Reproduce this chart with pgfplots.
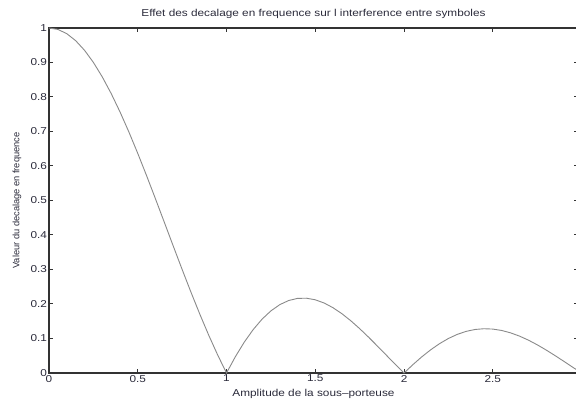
\documentclass[border=0pt]{standalone}
\usepackage{fontspec}
\setmainfont{Liberation Sans}[FakeStretch=1.18]
\newfontfamily\ylfont{Liberation Sans}
\usepackage{pgfplots}
\pgfplotsset{compat=1.18}
\definecolor{axgray}{HTML}{333333}
\definecolor{curvegray}{HTML}{8A8A8A}
\definecolor{txt}{HTML}{2A2A3A}
\begin{document}
\begin{tikzpicture}
\begin{axis}[
  scale only axis,
  width=529pt, height=345pt,
  xmin=0, xmax=2.98, ymin=0, ymax=1,
  xtick={0,0.5,1,1.5,2,2.5},
  xticklabels={0,0.5,1,1.5,2,2.5},
  ytick={0,0.1,0.2,0.3,0.4,0.5,0.6,0.7,0.8,0.9,1},
  yticklabels={0,0.1,0.2,0.3,0.4,0.5,0.6,0.7,0.8,0.9,1},
  tick align=inside,
  major tick length=4pt,
  tick style={axgray, line width=1pt},
  axis line style={axgray, line width=1.4pt},
  ticklabel style={font=\fontsize{10}{11}\selectfont, text=txt},
  xticklabel style={yshift=1.5pt},
  yticklabel style={xshift=1.5pt},
  /pgf/number format/assume math mode=true,
  title={Effet des decalage en frequence sur l interference entre symboles},
  title style={font=\fontsize{10}{11}\selectfont, text=txt, at={(axis description cs:0.5,1)}, anchor=center, yshift=8.5pt},
  xlabel={Amplitude de la sous--porteuse},
  xlabel style={font=\fontsize{10}{11}\selectfont, text=txt, at={(axis description cs:0.5,0)}, anchor=center, yshift=-21pt},
  ylabel={Valeur du decalage en frequence},
  ylabel style={font=\ylfont\fontsize{9.3}{10}\selectfont, text=txt, at={(axis description cs:-0.0605,0.5)}, anchor=center},
]
\addplot[curvegray, line width=0.9pt] coordinates {
(0,1) (0.05,0.99589) (0.1,0.98363) (0.15,0.96340) (0.2,0.93549) (0.25,0.90032)
(0.3,0.85839) (0.35,0.81033) (0.4,0.75683) (0.45,0.69865) (0.5,0.63662)
(0.55,0.57162) (0.6,0.50455) (0.65,0.43633) (0.7,0.36788) (0.75,0.30011)
(0.8,0.23387) (0.85,0.17001) (0.9,0.10929) (0.95,0.05242) (1.0,0)
(1.05,0.04742) (1.1,0.08942) (1.15,0.12566) (1.2,0.15592) (1.25,0.18006)
(1.3,0.19809) (1.35,0.21009) (1.4,0.21624) (1.45,0.21682) (1.5,0.21221)
(1.55,0.20283) (1.6,0.18921) (1.65,0.17189) (1.7,0.15148) (1.75,0.12862)
(1.8,0.10394) (1.85,0.07811) (1.9,0.05177) (1.95,0.02554) (2.0,0)
(2.05,0.02429) (2.1,0.04684) (2.15,0.06721) (2.2,0.08504) (2.25,0.10004)
(2.3,0.11196) (2.35,0.12069) (2.4,0.12614) (2.45,0.12832) (2.5,0.12732)
(2.55,0.12329) (2.6,0.11643) (2.65,0.10703) (2.7,0.09538) (2.75,0.08185)
(2.8,0.06682) (2.85,0.05071) (2.9,0.03392) (2.95,0.01688) (2.98,0.00670)
};
\end{axis}
\pgfresetboundingbox
\useasboundingbox ([shift={(-49pt,-26pt)}]current axis.south west) rectangle ([shift={(527pt,373pt)}]current axis.south west);
\end{tikzpicture}
\end{document}
